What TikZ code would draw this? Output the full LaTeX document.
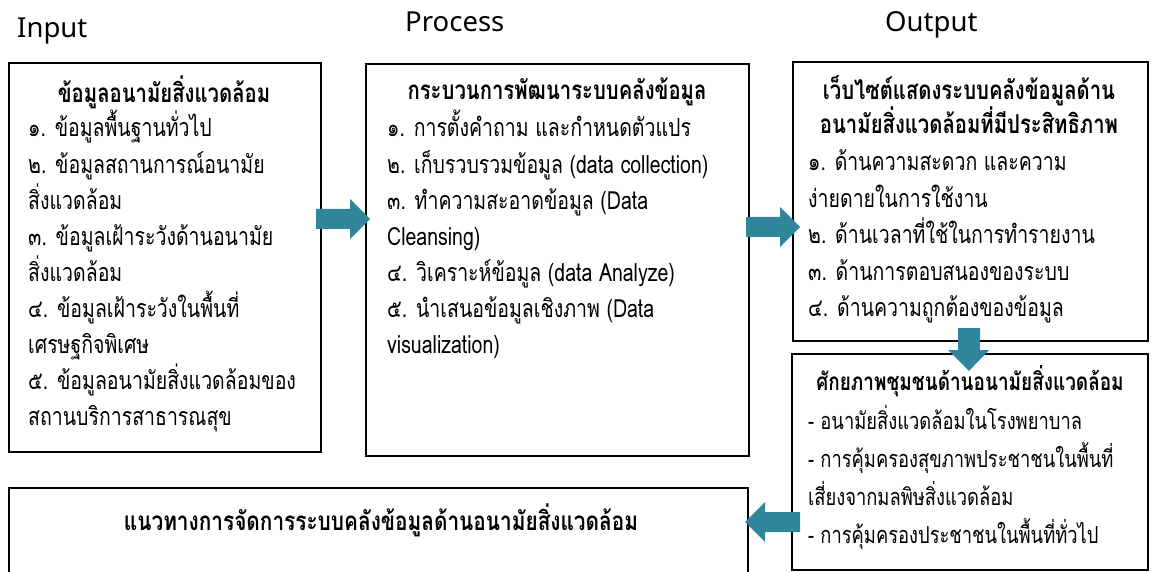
\documentclass[tikz,border=0pt]{standalone}
\usepackage{fontspec}
\setmainfont{Noto Sans}
\newfontfamily\thai[Script=Thai,FakeStretch=0.78]{Loma}
\newfontfamily\thaicond[Script=Thai,FakeStretch=0.8]{Loma}
\definecolor{flow}{RGB}{49,133,155}
\begin{document}
\begin{tikzpicture}[x=1pt,y=-1pt,
  box/.style={draw=black,line width=1.6pt,anchor=north west,inner sep=0pt},
  title/.style={font=\fontsize{27.5}{30}\selectfont,anchor=base west,inner sep=0pt},
  head/.style={font=\thai\bfseries\fontsize{26}{34}\selectfont,anchor=base,inner sep=0pt},
  line/.style={font=\thai\fontsize{25}{36}\selectfont,anchor=base west,inner sep=0pt},
  flowarrow/.style={fill=flow,draw=none}]
\clip (0,0) rectangle (1152,572);

% column titles
\node[title] (tin) at (17,38) {Input};
\node[title] (tproc) at (405,32) {Process};
\node[title] (tout) at (885,32) {Output};

% frames
\node[box,minimum width=312pt,minimum height=389pt] (input) at (8,62) {};
\node[box,minimum width=383pt,minimum height=392pt] (process) at (365,63) {};
\node[box,minimum width=355pt,minimum height=279pt] (output) at (792,61) {};
\node[box,minimum width=356pt,minimum height=216pt] (potential) at (791,353) {};
\node[box,minimum width=739pt,minimum height=110pt] (guide) at (8,487) {};

% input
\node[head] (inhead) at (164,103) {ข้อมูลอนามัยสิ่งแวดล้อม};
\foreach \t [count=\i from 0] in {%
  ๑. ข้อมูลพื้นฐานทั่วไป,
  ๒. ข้อมูลสถานการณ์อนามัย,
  สิ่งแวดล้อม,
  ๓. ข้อมูลเฝ้าระวังด้านอนามัย,
  สิ่งแวดล้อม,
  ๔. ข้อมูลเฝ้าระวังในพื้นที่,
  เศรษฐกิจพิเศษ,
  ๕. ข้อมูลอนามัยสิ่งแวดล้อมของ,
  สถานบริการสาธารณสุข}
  \node[line] (in-\i) at (28,{137+36.1*\i}) {\t};

% process
\node[head] (prochead) at (557,100) {กระบวนการพัฒนาระบบคลังข้อมูล};
\foreach \t [count=\i from 0] in {%
  ๑. การตั้งคำถาม และกำหนดตัวแปร,
  ๒. เก็บรวบรวมข้อมูล (data collection),
  ๓. ทำความสะอาดข้อมูล (Data,
  Cleansing),
  ๔. วิเคราะห์ข้อมูล (data Analyze),
  ๕. นำเสนอข้อมูลเชิงภาพ (Data,
  visualization)}
  \node[line] (proc-\i) at (387,{137+36.1*\i}) {\t};

% output
\node[head] (outhead1) at (969,100) {เว็บไซต์แสดงระบบคลังข้อมูลด้าน};
\node[head] (outhead2) at (969,134) {อนามัยสิ่งแวดล้อมที่มีประสิทธิภาพ};
\foreach \t [count=\i from 0] in {%
  ๑. ด้านความสะดวก และความ,
  ง่ายดายในการใช้งาน,
  ๒. ด้านเวลาที่ใช้ในการทำรายงาน,
  ๓. ด้านการตอบสนองของระบบ,
  ๔. ด้านความถูกต้องของข้อมูล}
  \node[line] (out-\i) at (808,{171+36.4*\i}) {\t};

% community potential
\node[head,font=\thai\bfseries\fontsize{24.3}{34}\selectfont] (pothead) at (970,390) {ศักยภาพชุมชนด้านอนามัยสิ่งแวดล้อม};
\foreach \t [count=\i from 0] in {%
  - อนามัยสิ่งแวดล้อมในโรงพยาบาล,
  - การคุ้มครองสุขภาพประชาชนในพื้นที่,
  เสี่ยงจากมลพิษสิ่งแวดล้อม,
  - การคุ้มครองประชาชนในพื้นที่ทั่วไป}
  \node[line,font=\thai\fontsize{23.5}{36}\selectfont] (pot-\i) at (808,{429+38*\i}) {\t};

% management guideline
\node[font=\thaicond\bfseries\fontsize{26}{30}\selectfont,anchor=base,inner sep=0pt]
  (guidetext) at (381,530) {แนวทางการจัดการระบบคลังข้อมูลด้านอนามัยสิ่งแวดล้อม};

% block arrows
\fill[flowarrow] (316,209) -- (350,209) -- (350,199) -- (370,219)
  -- (350,239) -- (350,229) -- (316,229) -- cycle;
\fill[flowarrow] (746,217) -- (780,217) -- (780,207) -- (800,227)
  -- (780,247) -- (780,237) -- (746,237) -- cycle;
\fill[flowarrow] (958,328) -- (980,328) -- (980,350) -- (989,350)
  -- (969,371) -- (948,350) -- (958,350) -- cycle;
\fill[flowarrow] (800,512) -- (765,512) -- (765,502) -- (745,522)
  -- (765,542) -- (765,532) -- (800,532) -- cycle;
\end{tikzpicture}
\end{document}
